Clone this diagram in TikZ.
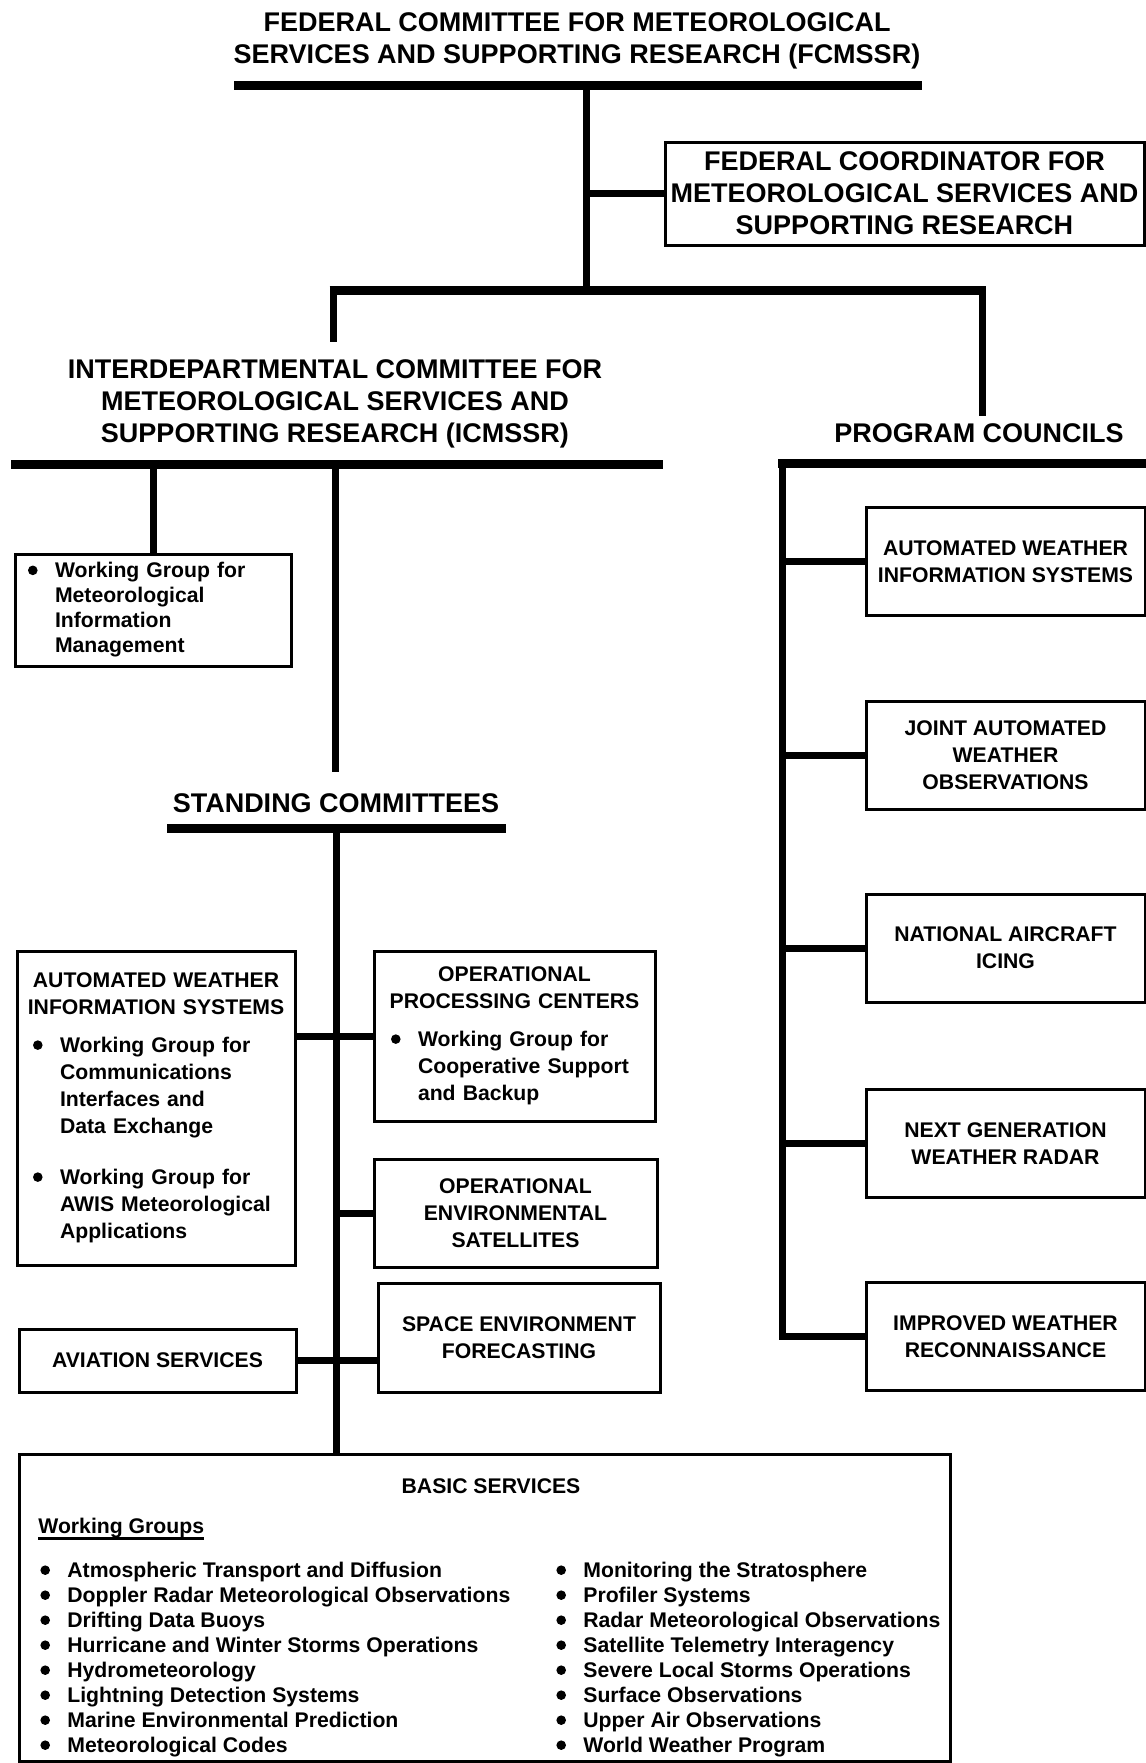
\documentclass[tikz,border=0pt]{standalone}
\usepackage{fontspec}
\setmainfont{Liberation Sans}
\setlength{\parindent}{0pt}
\newcommand\bigfont{\fontsize{13.5}{16}\selectfont\bfseries}
\newcommand\medfont{\fontsize{10.6}{13.5}\selectfont\bfseries}
\newcommand\listfont{\fontsize{10.6}{12.5}\selectfont\bfseries}
\newcommand\bul{\makebox[13.5pt][l]{\tikz[baseline=-3.8pt]\fill (2.4pt,0pt) circle (2.4pt);}}
\newcommand\ind{\hspace*{13.5pt}}
\newcommand\ctrline[1]{\makebox[\hsize]{#1}}

\begin{document}
\begin{tikzpicture}[x=0.5pt,y=-0.5pt,
  bar/.style={line width=4.5pt},
  link/.style={line width=3.5pt},
  head/.style={font=\bigfont,align=center,inner sep=0pt},
  box/.style={draw,line width=1.5pt,inner sep=0pt,font=\medfont,align=center},
  pcbox/.style={box,minimum width=139.5pt,minimum height=54pt},
  wgbox/.style={box,align=left,font=\listfont}]
  \useasboundingbox (0,0) rectangle (1146,1763);

  % FCMSSR
  \node[head] (fcm) at (577,41) {FEDERAL COMMITTEE FOR METEOROLOGICAL\\SERVICES AND SUPPORTING RESEARCH (FCMSSR)};
  \coordinate (fcmL) at (234,85);
  \coordinate (fcmR) at (922,85);
  \coordinate (fcmT) at (586,85);
  \coordinate (split) at (586,290);
  \draw[bar] (fcmL) -- (fcmR);
  \draw[link] (fcmT) -- (split);
  \node[box,font=\bigfont,minimum width=239.5pt,minimum height=51.5pt] (fcoord) at (904.5,193.5) {FEDERAL COORDINATOR FOR\\METEOROLOGICAL SERVICES AND\\SUPPORTING RESEARCH};
  \draw[link] (split |- fcoord.west) -- (fcoord.west);

  % branch
  \coordinate (brL) at (329.5,290);
  \coordinate (brR) at (985.5,290);
  \coordinate (icmT) at (333,342);
  \coordinate (pcT) at (982,416);
  \draw[bar] (brL) -- (brR);
  \draw[link] (icmT |- brL) -- (icmT);
  \draw[link] (pcT |- brR) -- (pcT);

  % ICMSSR
  \node[head] (icm) at (335,404) {INTERDEPARTMENTAL COMMITTEE FOR\\METEOROLOGICAL SERVICES AND\\SUPPORTING RESEARCH (ICMSSR)};
  \coordinate (icmL) at (11,464);
  \coordinate (icmR) at (663,464);
  \draw[bar] (icmL) -- (icmR);
  \node[wgbox,minimum width=138pt,minimum height=56pt,text width=125pt] (mim) at (153,610) {\bul Working Group for\\\ind Meteorological\\\ind Information\\\ind Management};
  \draw[link] (mim.north |- icmL) -- (mim.north);
  \coordinate (scT) at (335,772);
  \draw[link] (scT |- icmL) -- (scT);

  % standing committees
  \node[head] (sc) at (336,803) {STANDING COMMITTEES};
  \coordinate (scL) at (167,828);
  \coordinate (scR) at (506,828);
  \coordinate (scB) at (336,828);
  \draw[bar] (scL) -- (scR);

  \node[wgbox,font=\medfont,minimum width=139pt,minimum height=157pt,text width=123pt] (lawis) at (156,1108) {\ctrline{AUTOMATED WEATHER}\\\ctrline{INFORMATION SYSTEMS}\\[5.5pt]\bul Working Group for\\\ind Communications\\\ind Interfaces and\\\ind Data Exchange\\[12pt]\bul Working Group for\\\ind AWIS Meteorological\\\ind Applications};
  \node[wgbox,font=\medfont,minimum width=140.5pt,minimum height=85pt,text width=123.5pt] (opc) at (514.5,1036) {\ctrline{OPERATIONAL}\\\ctrline{PROCESSING CENTERS}\\[5.5pt]\bul Working Group for\\\ind Cooperative Support\\\ind and Backup};
  \node[box,minimum width=141.5pt,minimum height=54pt] (oes) at (515.5,1213) {OPERATIONAL\\ENVIRONMENTAL\\SATELLITES};
  \node[box,minimum width=141pt,minimum height=54.5pt] (sef) at (519,1337.5) {SPACE ENVIRONMENT\\FORECASTING};
  \node[box,minimum width=138.5pt,minimum height=31.5pt] (avi) at (157.5,1360.5) {AVIATION SERVICES};

  \draw[link] (lawis.east |- opc.west) -- (opc.west);
  \draw[link] (scB |- oes.west) -- (oes.west);
  \draw[link] (avi.east) -- (avi.east -| sef.west);

  % basic services
  \node[draw,line width=1.5pt,minimum width=465.5pt,minimum height=153.5pt] (basic) at (484.5,1607.5) {};
  \draw[link] (scB) -- (scB |- basic.north);
  \node[font=\medfont,inner sep=0pt] (bs) at (491,1486) {BASIC SERVICES};
  \node[font=\medfont,inner sep=0pt,anchor=west] (wg) at (38,1528) {Working Groups};
  \draw[line width=1.5pt] (wg.south west) -- (wg.south east);
  \node[font=\listfont,align=left,inner sep=0pt,anchor=north west] (wgl) at (40,1562) {\bul Atmospheric Transport and Diffusion\\\bul Doppler Radar Meteorological Observations\\\bul Drifting Data Buoys\\\bul Hurricane and Winter Storms Operations\\\bul Hydrometeorology\\\bul Lightning Detection Systems\\\bul Marine Environmental Prediction\\\bul Meteorological Codes};
  \node[font=\listfont,align=left,inner sep=0pt,anchor=north west] (wgr) at (556,1562) {\bul Monitoring the Stratosphere\\\bul Profiler Systems\\\bul Radar Meteorological Observations\\\bul Satellite Telemetry Interagency\\\bul Severe Local Storms Operations\\\bul Surface Observations\\\bul Upper Air Observations\\\bul World Weather Program};

  % program councils
  \node[head] (pc) at (979,433) {PROGRAM COUNCILS};
  \coordinate (pcL) at (778,463);
  \coordinate (pcR) at (1146,463);
  \coordinate (pcV) at (782,463);
  \draw[bar] (pcL) -- (pcR);
  \node[pcbox] (pc1) at (1005.5,561.5) {AUTOMATED WEATHER\\INFORMATION SYSTEMS};
  \node[pcbox] (pc2) at (1005.5,755.5) {JOINT AUTOMATED\\WEATHER\\OBSERVATIONS};
  \node[pcbox] (pc3) at (1005.5,948) {NATIONAL AIRCRAFT\\ICING};
  \node[pcbox] (pc4) at (1005.5,1143.5) {NEXT GENERATION\\WEATHER RADAR};
  \node[pcbox] (pc5) at (1005.5,1336.5) {IMPROVED WEATHER\\RECONNAISSANCE};
  \draw[link] (pcV) |- (pc5.west);
  \foreach \n in {pc1,pc2,pc3,pc4} \draw[link] (pcV |- \n.west) -- (\n.west);
\end{tikzpicture}
\end{document}
